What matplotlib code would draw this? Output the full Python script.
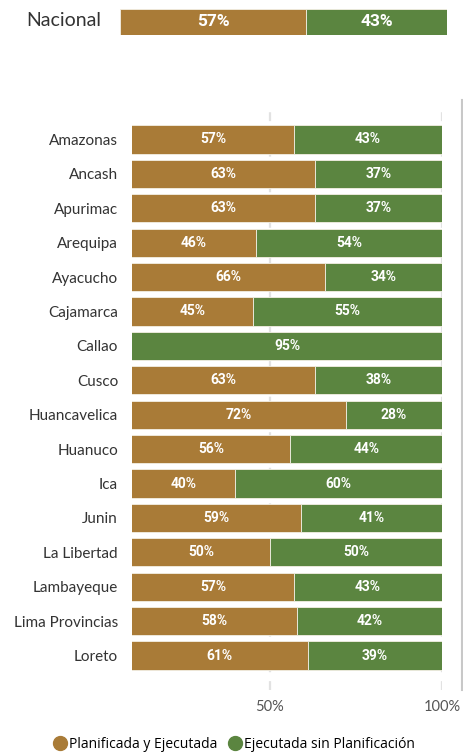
import numpy as np
import matplotlib.pyplot as plt
from matplotlib.lines import Line2D

# datos
regiones = ["Amazonas", "Ancash", "Apurimac", "Arequipa", "Ayacucho", "Cajamarca",
            "Callao", "Cusco", "Huancavelica", "Huanuco", "Ica", "Junin",
            "La Libertad", "Lambayeque", "Lima Provincias", "Loreto"]
planificada = [57, 63, 63, 46, 66, 45, 5, 63, 72, 56, 40, 59, 50, 57, 58, 61]
sin_plan = [43, 37, 37, 54, 34, 55, 95, 38, 28, 44, 60, 41, 50, 43, 42, 39]
nacional = [57, 43]
series = ["Planificada y Ejecutada", "Ejecutada sin Planificación"]
ticks_x = [50, 100]

naranja = "#A97B37"
verde = "#5B8540"
gris_txt = "#333333"
colores = [naranja, verde]

W, H = 464, 752
fig = plt.figure(figsize=(W / 100, H / 100), dpi=100)

def caja(x0, y0, x1, y1):
    return [x0 / W, 1 - y1 / H, (x1 - x0) / W, (y1 - y0) / H]

# barra nacional
axn = fig.add_axes(caja(120, 9, 447, 35))
izq = 0
for v, c in zip(nacional, colores):
    axn.barh(0, v, left=izq, height=1, color=c, edgecolor="#f3efe4", linewidth=0.6)
    axn.text(izq + v / 2, 0, f"{v}%", color="white", ha="center", va="center",
             fontsize=12.5, fontweight="bold", family="Roboto")
    izq += v
axn.set_xlim(0, sum(nacional))
axn.set_ylim(-0.5, 0.5)
axn.axis("off")
fig.text(101 / W, 1 - 21 / H, "Nacional", ha="right", va="center", fontsize=14,
         color=gris_txt, family="Lato")

# grafico por region
ax = fig.add_axes(caja(132, 105, 442, 690))
xmin, xmax = 10, 100
y = np.arange(len(regiones))
for xt in ticks_x:
    ax.axvline(xt, color="#e2e2e2", lw=1.6, dashes=(4, 4), zorder=0)

izq = np.zeros(len(regiones))
for vals, c in zip([planificada, sin_plan], colores):
    vals = np.array(vals, dtype=float)
    ax.barh(y, vals, left=izq, height=0.82, color=c, edgecolor="#f3efe4",
            linewidth=0.6, zorder=2)
    for yi, l, v in zip(y, izq, vals):
        a = max(l, xmin)
        b = min(l + v, xmax)
        if b - a > 4:
            ax.text((a + b) / 2, yi, f"{int(v)}%", color="white", ha="center",
                    va="center", fontsize=10, fontweight="bold", family="Roboto",
                    zorder=3)
    izq += vals

ax.set_xlim(xmin, xmax)
ax.set_ylim(len(regiones), -1)
ax.set_yticks(y)
ax.set_yticklabels(regiones, fontsize=11, color=gris_txt, family="Lato")
ax.set_xticks(ticks_x)
ax.set_xticklabels([f"{t}%" for t in ticks_x], fontsize=10.5, color="#555555",
                   family="Lato")
ax.tick_params(length=0, axis="y", pad=10)
ax.tick_params(length=0, axis="x", pad=7)
for s in ax.spines.values():
    s.set_visible(False)

# barra de desplazamiento
fig.add_artist(Line2D([462 / W, 462 / W], [1 - 100 / H, 1 - 690 / H],
                      color="#c8c8c8", lw=1.5))

# leyenda
handles = [Line2D([], [], marker="o", ls="", markersize=10, color=c) for c in colores]
fig.legend(handles, series, loc="center", bbox_to_anchor=(234 / W, 1 - 744 / H),
           ncol=2, frameon=False, handletextpad=0.1,
           columnspacing=0.8, handlelength=1.0, prop={"family": "Open Sans", "size": 10})

fig.savefig("out.png", dpi=100)
